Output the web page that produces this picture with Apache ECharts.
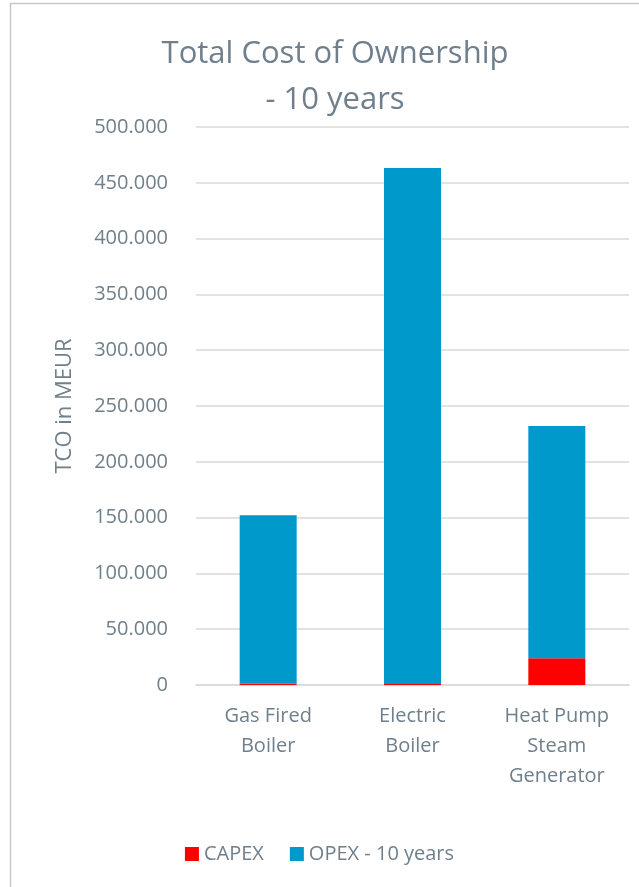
<!DOCTYPE html>
<html>
<head>
<meta charset="utf-8">
<script src="https://cdn.jsdelivr.net/npm/echarts@6/dist/echarts.min.js"></script>
<style>
html,body{margin:0;padding:0;background:#fff;}
#main{width:639px;height:887px;}
</style>
</head>
<body>
<div id="main"></div>
<script>
var categories = ['Gas Fired\nBoiler', 'Electric\nBoiler', 'Heat Pump\nSteam\nGenerator'];
var capex = [1200, 800, 24000];
var opex = [151000, 462500, 208000];

var textColor = '#6f7f8c';

function fmt(v) {
	return String(v).replace(/\B(?=(\d{3})+(?!\d))/g, '.');
}

var chart = echarts.init(document.getElementById('main'));
var option = {
	backgroundColor: '#fff',
	animation: false,
	graphic: [{
		type: 'rect',
		shape: {x: 10.5, y: 3.5, width: 700, height: 1000},
		style: {fill: 'none', stroke: '#c8c8c8', lineWidth: 1.5}
	}],
	title: {
		text: 'Total Cost of Ownership\n- 10 years',
		left: 330,
		textAlign: 'center',
		top: 26,
		textStyle: {
			fontFamily: 'Open Sans',
			fontWeight: 'normal',
			fontSize: 31,
			lineHeight: 46,
			color: textColor
		}
	},
	legend: {
		bottom: 18,
		left: 'center',
		itemWidth: 14,
		itemHeight: 14,
		itemGap: 26,
		icon: 'rect',
		textStyle: {fontFamily: 'Open Sans', fontSize: 20, color: textColor},
		data: ['CAPEX', 'OPEX - 10 years']
	},
	grid: {left: 196, right: 10, top: 127, bottom: 202},
	xAxis: {
		type: 'category',
		data: categories,
		axisLine: {lineStyle: {color: '#d9d9d9', width: 1.5}},
		axisTick: {show: false},
		axisLabel: {
			fontFamily: 'Open Sans',
			fontSize: 20,
			lineHeight: 30,
			color: textColor,
			margin: 16
		}
	},
	yAxis: {
		type: 'value',
		min: 0,
		max: 500000,
		interval: 50000,
		name: 'TCO in MEUR',
		nameLocation: 'middle',
		nameGap: 120,
		nameTextStyle: {fontFamily: 'Open Sans', fontSize: 22, color: textColor},
		axisLine: {show: false},
		axisTick: {show: false},
		splitLine: {lineStyle: {color: '#d9d9d9', width: 1.5}},
		axisLabel: {
			fontFamily: 'Open Sans',
			fontSize: 20,
			color: textColor,
			margin: 28,
			formatter: fmt
		}
	},
	series: [
		{
			name: 'CAPEX',
			type: 'bar',
			stack: 'tco',
			barWidth: 57,
			itemStyle: {color: '#ff0000'},
			data: capex
		},
		{
			name: 'OPEX - 10 years',
			type: 'bar',
			stack: 'tco',
			barWidth: 57,
			itemStyle: {color: '#0099cc'},
			data: opex
		}
	]
};
chart.setOption(option);
</script>
</body>
</html>
